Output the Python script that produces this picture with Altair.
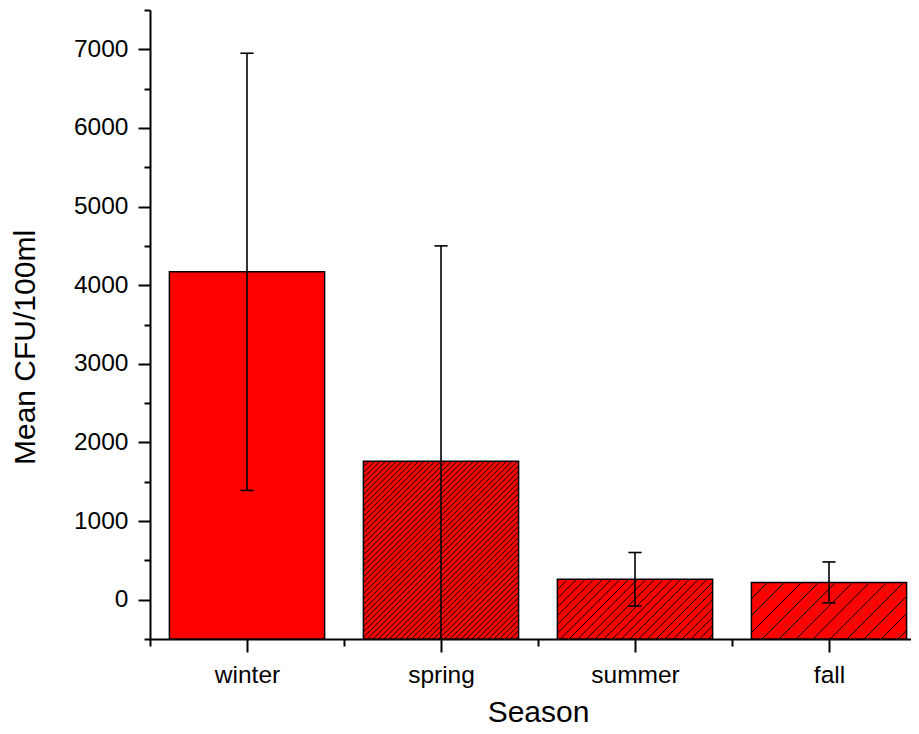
import json
import numpy as np
import pandas as pd
import altair as alt

# ---- data ----
seasons = ["winter", "spring", "summer", "fall"]
means = [4170, 1760, 260, 220]
sds = [2780, 2740, 340, 260]
hatch_spacing_px = [0, 5.5, 8.7, 17]  # style: hatch density per bar (0 = solid)

# ---- layout ----
PLOT_W, PLOT_H = 761, 629
BAND_PX = 194
Y_MIN, Y_MAX = -500, 7500
X_MAX = PLOT_W / BAND_PX
BAR_HALF = 0.4
CAP_HALF = 0.034
PX_Y = PLOT_H / (Y_MAX - Y_MIN)
FONT = "Liberation Sans"

pos = [i + 0.5 for i in range(len(seasons))]
bars = pd.DataFrame({
    "season": seasons,
    "pos": pos,
    "xl": [p - BAR_HALF for p in pos],
    "xr": [p + BAR_HALF for p in pos],
    "base": [Y_MIN] * len(seasons),
    "mean": means,
    "lo": [m - s for m, s in zip(means, sds)],
    "hi": [m + s for m, s in zip(means, sds)],
    "cl": [p - CAP_HALF for p in pos],
    "cr": [p + CAP_HALF for p in pos],
})

# hatch lines ("/" at 45 degrees in screen space), clipped to each bar
rows = []
for i, (p, m, s) in enumerate(zip(pos, means, hatch_spacing_px)):
    if s <= 0:
        continue
    W = 2 * BAR_HALF * BAND_PX
    H = (m - Y_MIN) * PX_Y
    x0 = (p - BAR_HALF)
    b = -W + s / 2
    while b < H:
        xs = max(0.0, -b)
        xe = min(W, H - b)
        if xe > xs:
            rows.append({
                "hx": x0 + xs / BAND_PX, "hx2": x0 + xe / BAND_PX,
                "hy": Y_MIN + (xs + b) / PX_Y, "hy2": Y_MIN + (xe + b) / PX_Y,
            })
        b += s
hatch = pd.DataFrame(rows)

xscale = alt.Scale(domain=[0, X_MAX], nice=False, zero=False)
yscale = alt.Scale(domain=[Y_MIN, Y_MAX], nice=False, zero=False)

label_arr = json.dumps(seasons)
x_axis = alt.Axis(
    values=[0, 0.5, 1, 1.5, 2, 2.5, 3, 3.5],
    labelExpr=f"datum.value % 1 == 0.5 ? {label_arr}[floor(datum.value)] : ''",
    tickSize={"condition": {"test": "datum.value % 1 == 0", "value": 7}, "value": 13},
    labelPadding=11, labelOverlap=False, labelFlush=False, labelBound=False,
    grid=False, title="Season", titleX=388, titleY=82, titleBaseline="alphabetic",
    titleAlign="center",
)
y_axis = alt.Axis(
    values=list(range(Y_MIN, Y_MAX + 1, 500)),
    labelExpr="datum.value % 1000 == 0 && datum.value >= 0 ? format(datum.value, 'd') : ''",
    tickSize={"condition": {"test": "datum.value % 1000 == 0", "value": 12}, "value": 6},
    labelPadding=10, labelOverlap=False, labelFlush=False, labelBound=False,
    grid=False, title="Mean CFU/100ml", titleX=-116, titleY=337,
    titleBaseline="alphabetic", titleAlign="center", titleAngle=-90,
)

def X(f):
    return alt.X(f, type="quantitative", scale=xscale, axis=x_axis)

def Y(f):
    return alt.Y(f, type="quantitative", scale=yscale, axis=y_axis)

fill_layer = alt.Chart(bars).mark_rect(color="#FF0000", clip=True).encode(
    x=X("xl"), x2="xr", y=Y("base"), y2="mean")

hatch_layer = alt.Chart(hatch).mark_rule(color="black", strokeWidth=1, clip=True).encode(
    x=X("hx"), x2="hx2", y=Y("hy"), y2="hy2")

outline_layer = alt.Chart(bars).mark_rect(fill=None, stroke="black", strokeWidth=1.5, clip=True).encode(
    x=X("xl"), x2="xr", y=Y("base"), y2="mean")

err_layer = alt.Chart(bars).mark_rule(color="black", strokeWidth=1.6, clip=True).encode(
    x=X("pos"), y=Y("lo"), y2="hi")

cap_hi = alt.Chart(bars).mark_rule(color="black", strokeWidth=1.6, clip=True).encode(
    x=X("cl"), x2="cr", y=Y("hi"))

cap_lo = alt.Chart(bars).transform_filter(f"datum.lo > {Y_MIN}").mark_rule(
    color="black", strokeWidth=1.6, clip=True).encode(
    x=X("cl"), x2="cr", y=Y("lo"))

chart = alt.layer(fill_layer, hatch_layer, outline_layer, err_layer, cap_hi, cap_lo).properties(
    width=PLOT_W, height=PLOT_H,
    autosize=alt.AutoSizeParams(type="none"),
    padding={"left": 142, "top": 2, "right": 0, "bottom": 87},
    background="white",
).configure(font=FONT).configure_view(stroke=None).configure_axis(
    domainColor="black", domainWidth=2, tickColor="black", tickWidth=2,
    labelColor="black", titleColor="black",
    labelFont=FONT, titleFont=FONT, labelFontSize=24.5, titleFontSize=30,
    titleFontWeight="normal",
)

chart.save("out.html", embed_options={"renderer": "svg", "actions": False})
